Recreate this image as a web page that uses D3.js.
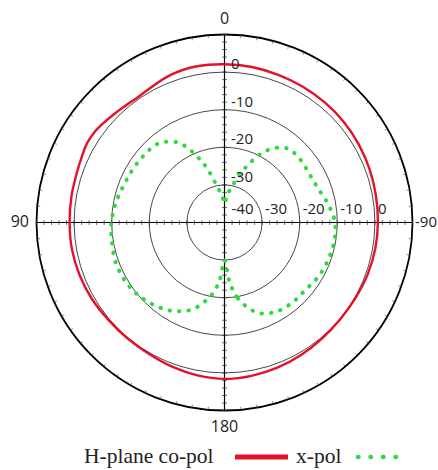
<!DOCTYPE html>
<html>
<head>
<meta charset="utf-8">
<script src="https://cdn.jsdelivr.net/npm/d3@7"></script>
<style>
  html, body { margin: 0; padding: 0; background: #ffffff; }
  svg { display: block; }
</style>
</head>
<body>
<svg id="chart" width="438" height="470"></svg>
<script>
// ---- data (angle in degrees, positive = towards the "90" side on the left) ----
const coPolAngles = [-170,-160,-150,-140,-130,-120,-110,-100,-90,-80,-70,-60,-50,-40,-30,-20,-10,
                     0,10,20,30,35,40,45,50,55,60,65,70,80,90,100,110,120,130,140,150,160,170,180];
const coPolDb     = [1.4,1.1,0.7,0.3,0.1,0.2,0.5,0.7,0.8,0.9,1.1,1.3,1.5,1.6,1.7,1.8,2.0,
                     2.1,2.2,1.8,0.8,0.5,0.7,1.1,1.6,2.1,2.2,1.8,1.5,1.3,1.2,1.2,1.0,0.7,0.3,0.2,0.3,0.8,1.3,1.6];

const xPolAngles  = [-175,-170,-160,-150,-140,-130,-120,-110,-100,-90,-80,-70,-60,-50,-40,-30,-20,-10,-5,
                     0,5,10,20,30,40,50,60,70,80,90,100,110,120,130,140,150,160,170,175,180];
const xPolDb      = [-24,-19.5,-14.5,-12.6,-12.1,-12.0,-11.2,-10.7,-10.4,-10.6,-12.0,-13.5,-14.0,-13.8,-14.2,-18.0,-25.0,-31,-33,
                     -35,-33,-31,-23,-15.5,-12.6,-12.1,-11.8,-11.4,-10.6,-9.9,-9.6,-9.2,-9.3,-10.0,-11.2,-12.8,-15.5,-20.5,-24.5,-30];

const ringValues   = [-30, -20, -10, 0];
const vertLabels   = ["0", "-10", "-20", "-30"];
const vertLabelDb  = [0, -10, -20, -30];
const horizLabels  = ["-40", "-30", "-20", "-10", "0"];
const horizLabelDb = [-40, -30, -20, -10, 0];
const angleLabels  = ["0", "90", "180", "-90"];
const legendNames  = ["H-plane co-pol", "x-pol"];
const seriesColors = ["#e3122a", "#33d83f"];

// ---- layout ----
const svg = d3.select("#chart");
const cx = 224.5, cy = 222.5;
const r = d3.scaleLinear().domain([-40, 10]).range([0, 188]);
const R = r(10);

const g = svg.append("g").attr("transform", `translate(${cx},${cy})`);

// rings
g.selectAll("circle.ring").data(ringValues).enter().append("circle")
  .attr("class", "ring").attr("r", d => r(d))
  .attr("fill", "none").attr("stroke", "#333").attr("stroke-width", 0.9);

// outer circle
g.append("circle").attr("r", R).attr("fill", "none").attr("stroke", "#000").attr("stroke-width", 1.8);

// outer-circle ticks
const outerTicks = d3.range(0, 360, 5);
g.selectAll("line.otick").data(outerTicks).enter().append("line")
  .attr("x1", d => (R) * Math.sin(d * Math.PI / 180))
  .attr("y1", d => -(R) * Math.cos(d * Math.PI / 180))
  .attr("x2", d => (R - 3) * Math.sin(d * Math.PI / 180))
  .attr("y2", d => -(R - 3) * Math.cos(d * Math.PI / 180))
  .attr("stroke", "#555").attr("stroke-width", 0.7);

// axes lines
g.append("line").attr("x1", -R).attr("x2", R).attr("y1", 0).attr("y2", 0)
  .attr("stroke", "#000").attr("stroke-width", 1.2);
g.append("line").attr("x1", 0).attr("x2", 0).attr("y1", -R).attr("y2", R)
  .attr("stroke", "#000").attr("stroke-width", 1.2);

// axis minor ticks (every 2 dB)
const axisTickDb = d3.range(-38, 10.01, 2);
const tickG = g.append("g").attr("stroke", "#333").attr("stroke-width", 0.7);
axisTickDb.forEach(v => {
  const p = r(v);
  [p, -p].forEach(x => {
    tickG.append("line").attr("x1", x).attr("x2", x).attr("y1", -2.5).attr("y2", 2.5);
  });
  [p, -p].forEach(y => {
    tickG.append("line").attr("y1", y).attr("y2", y).attr("x1", -2.5).attr("x2", 2.5);
  });
});

// series
const toRad = d => -d * Math.PI / 180;
const line = d3.lineRadial()
  .angle(d => toRad(d[0]))
  .radius(d => r(d[1]))
  .curve(d3.curveCatmullRomClosed.alpha(0.5));

const coData = coPolAngles.map((a, i) => [a, coPolDb[i]]);
const xData = xPolAngles.map((a, i) => [a, xPolDb[i]]);

g.append("path").datum(xData).attr("d", line)
  .attr("fill", "none").attr("stroke", seriesColors[1]).attr("stroke-width", 4)
  .attr("stroke-linecap", "round").attr("stroke-dasharray", "0.5,9");

g.append("path").datum(coData).attr("d", line)
  .attr("fill", "none").attr("stroke", seriesColors[0]).attr("stroke-width", 2.4);

// radial labels
const lblFont = "'Open Sans', 'Liberation Sans', sans-serif";
g.selectAll("text.vl").data(vertLabels).enter().append("text")
  .attr("x", 6.5).attr("y", (d, i) => -r(vertLabelDb[i]) - 3)
  .attr("font-family", lblFont).attr("font-size", 15).attr("fill", "#222")
  .text(d => d);
g.selectAll("text.hl").data(horizLabels).enter().append("text")
  .attr("x", (d, i) => r(horizLabelDb[i]) + (i === 0 ? 7 : 3)).attr("y", -9)
  .attr("font-family", lblFont).attr("font-size", 15).attr("fill", "#222")
  .text(d => d);

// angle labels
const angFont = lblFont;
svg.append("text").attr("x", cx).attr("y", 24).attr("text-anchor", "middle")
  .attr("font-family", angFont).attr("font-size", 16).attr("fill", "#222").text(angleLabels[0]);
svg.append("text").attr("x", 29).attr("y", cy + 4).attr("text-anchor", "end")
  .attr("font-family", angFont).attr("font-size", 16).attr("fill", "#222").text(angleLabels[1]);
svg.append("text").attr("x", cx).attr("y", 432).attr("text-anchor", "middle")
  .attr("font-family", angFont).attr("font-size", 16).attr("fill", "#222").text(angleLabels[2]);
svg.append("text").attr("x", 437).attr("y", cy + 4).attr("text-anchor", "end")
  .attr("font-family", angFont).attr("font-size", 15).attr("fill", "#222").text(angleLabels[3]);

// legend
const legFont = "'Liberation Serif', 'Times New Roman', serif";
const legY = 457;
svg.append("text").attr("x", 84).attr("y", legY + 6).attr("font-family", legFont)
  .attr("font-size", 21.5).attr("fill", "#222").text(legendNames[0]);
svg.append("line").attr("x1", 235).attr("x2", 288).attr("y1", legY).attr("y2", legY)
  .attr("stroke", seriesColors[0]).attr("stroke-width", 5);
svg.append("text").attr("x", 296).attr("y", legY + 6).attr("font-family", legFont)
  .attr("font-size", 21.5).attr("fill", "#222").text(legendNames[1]);
svg.append("line").attr("x1", 358).attr("x2", 406).attr("y1", legY).attr("y2", legY)
  .attr("stroke", seriesColors[1]).attr("stroke-width", 4.5)
  .attr("stroke-linecap", "round").attr("stroke-dasharray", "0.5,12");
</script>
</body>
</html>
